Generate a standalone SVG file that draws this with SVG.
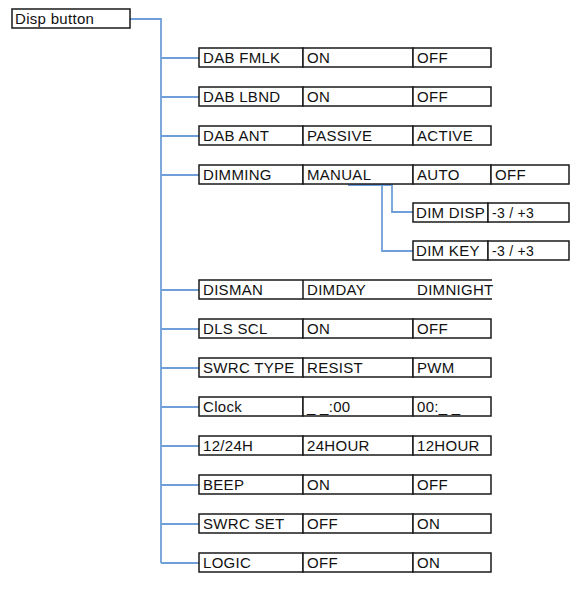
<svg xmlns="http://www.w3.org/2000/svg" width="571" height="596" viewBox="0 0 571 596">
<style>
.c{fill:#fff;stroke:#1a1a1a;stroke-width:1.5}
.l{fill:none;stroke:#1a1a1a;stroke-width:1.5}
.t{font-family:"Liberation Sans",Arial,sans-serif;font-size:15px;letter-spacing:0.3px;fill:#111}
.s{font-family:"Liberation Sans",Arial,sans-serif;font-size:14px;letter-spacing:0.3px;fill:#111}
.k{fill:none;stroke:#6f9fd8;stroke-width:1.8}
</style>
<rect width="571" height="596" fill="#fff"/>
<g id="connectors">
<path class="k" d="M130 19H161V563"/>
<path class="k" d="M161 58H199M161 97H199M161 136H199M161 175H199M161 290H199M161 329H199M161 368H199M161 407H199M161 446H199M161 485H199M161 524H199M161 563H199"/>
<path class="k" d="M348 185H392V212H413M382 185V251H413"/>
</g>
<g id="disp-button">
<rect class="c" x="12" y="9" width="118" height="19"/>
<text class="t" x="15" y="24">Disp button</text>
</g>
<g id="dab-fmlk">
<rect class="c" x="199" y="48" width="104" height="19"/><rect class="c" x="303" y="48" width="110" height="19"/><rect class="c" x="413" y="48" width="78" height="19"/>
<text class="t" x="203" y="63">DAB FMLK</text><text class="t" x="307" y="63">ON</text><text class="t" x="417" y="63">OFF</text>
</g>
<g id="dab-lbnd">
<rect class="c" x="199" y="87" width="104" height="19"/><rect class="c" x="303" y="87" width="110" height="19"/><rect class="c" x="413" y="87" width="78" height="19"/>
<text class="t" x="203" y="102">DAB LBND</text><text class="t" x="307" y="102">ON</text><text class="t" x="417" y="102">OFF</text>
</g>
<g id="dab-ant">
<rect class="c" x="199" y="126" width="104" height="19"/><rect class="c" x="303" y="126" width="110" height="19"/><rect class="c" x="413" y="126" width="78" height="19"/>
<text class="t" x="203" y="141">DAB ANT</text><text class="t" x="307" y="141">PASSIVE</text><text class="t" x="417" y="141">ACTIVE</text>
</g>
<g id="dimming">
<rect class="c" x="199" y="165" width="104" height="19"/><rect class="c" x="303" y="165" width="110" height="19"/><rect class="c" x="413" y="165" width="78" height="19"/><rect class="c" x="491" y="165" width="78" height="19"/>
<text class="t" x="203" y="180">DIMMING</text><text class="t" x="307" y="180">MANUAL</text><text class="t" x="417" y="180">AUTO</text><text class="t" x="495" y="180">OFF</text>
</g>
<g id="dim-disp">
<rect class="c" x="413" y="203" width="75" height="19"/><rect class="c" x="488" y="203" width="81" height="19"/>
<text class="t" x="416" y="218">DIM DISP</text><text class="s" x="492" y="218">-3 / +3</text>
</g>
<g id="dim-key">
<rect class="c" x="413" y="241" width="75" height="19"/><rect class="c" x="488" y="241" width="81" height="19"/>
<text class="t" x="416" y="256">DIM KEY</text><text class="s" x="492" y="256">-3 / +3</text>
</g>
<g id="disman">
<path class="l" d="M492 280H199V299H492M303 280V299"/>
<text class="t" x="203" y="295">DISMAN</text><text class="t" x="307" y="295">DIMDAY</text><text class="t" x="417" y="295">DIMNIGHT</text>
</g>
<g id="dls-scl">
<rect class="c" x="199" y="319" width="104" height="19"/><rect class="c" x="303" y="319" width="110" height="19"/><rect class="c" x="413" y="319" width="78" height="19"/>
<text class="t" x="203" y="334">DLS SCL</text><text class="t" x="307" y="334">ON</text><text class="t" x="417" y="334">OFF</text>
</g>
<g id="swrc-type">
<rect class="c" x="199" y="358" width="104" height="19"/><rect class="c" x="303" y="358" width="110" height="19"/><rect class="c" x="413" y="358" width="78" height="19"/>
<text class="t" x="203" y="373">SWRC TYPE</text><text class="t" x="307" y="373">RESIST</text><text class="t" x="417" y="373">PWM</text>
</g>
<g id="clock">
<rect class="c" x="199" y="397" width="104" height="19"/><rect class="c" x="303" y="397" width="110" height="19"/><rect class="c" x="413" y="397" width="78" height="19"/>
<text class="t" x="203" y="412">Clock</text><text class="t" x="307" y="412">_ _:00</text><text class="t" x="417" y="412">00:_ _</text>
</g>
<g id="h12-24">
<rect class="c" x="199" y="436" width="104" height="19"/><rect class="c" x="303" y="436" width="110" height="19"/><rect class="c" x="413" y="436" width="78" height="19"/>
<text class="t" x="203" y="451">12/24H</text><text class="t" x="307" y="451">24HOUR</text><text class="t" x="417" y="451">12HOUR</text>
</g>
<g id="beep">
<rect class="c" x="199" y="475" width="104" height="19"/><rect class="c" x="303" y="475" width="110" height="19"/><rect class="c" x="413" y="475" width="78" height="19"/>
<text class="t" x="203" y="490">BEEP</text><text class="t" x="307" y="490">ON</text><text class="t" x="417" y="490">OFF</text>
</g>
<g id="swrc-set">
<rect class="c" x="199" y="514" width="104" height="19"/><rect class="c" x="303" y="514" width="110" height="19"/><rect class="c" x="413" y="514" width="78" height="19"/>
<text class="t" x="203" y="529">SWRC SET</text><text class="t" x="307" y="529">OFF</text><text class="t" x="417" y="529">ON</text>
</g>
<g id="logic">
<rect class="c" x="199" y="553" width="104" height="19"/><rect class="c" x="303" y="553" width="110" height="19"/><rect class="c" x="413" y="553" width="78" height="19"/>
<text class="t" x="203" y="568">LOGIC</text><text class="t" x="307" y="568">OFF</text><text class="t" x="417" y="568">ON</text>
</g>
</svg>
